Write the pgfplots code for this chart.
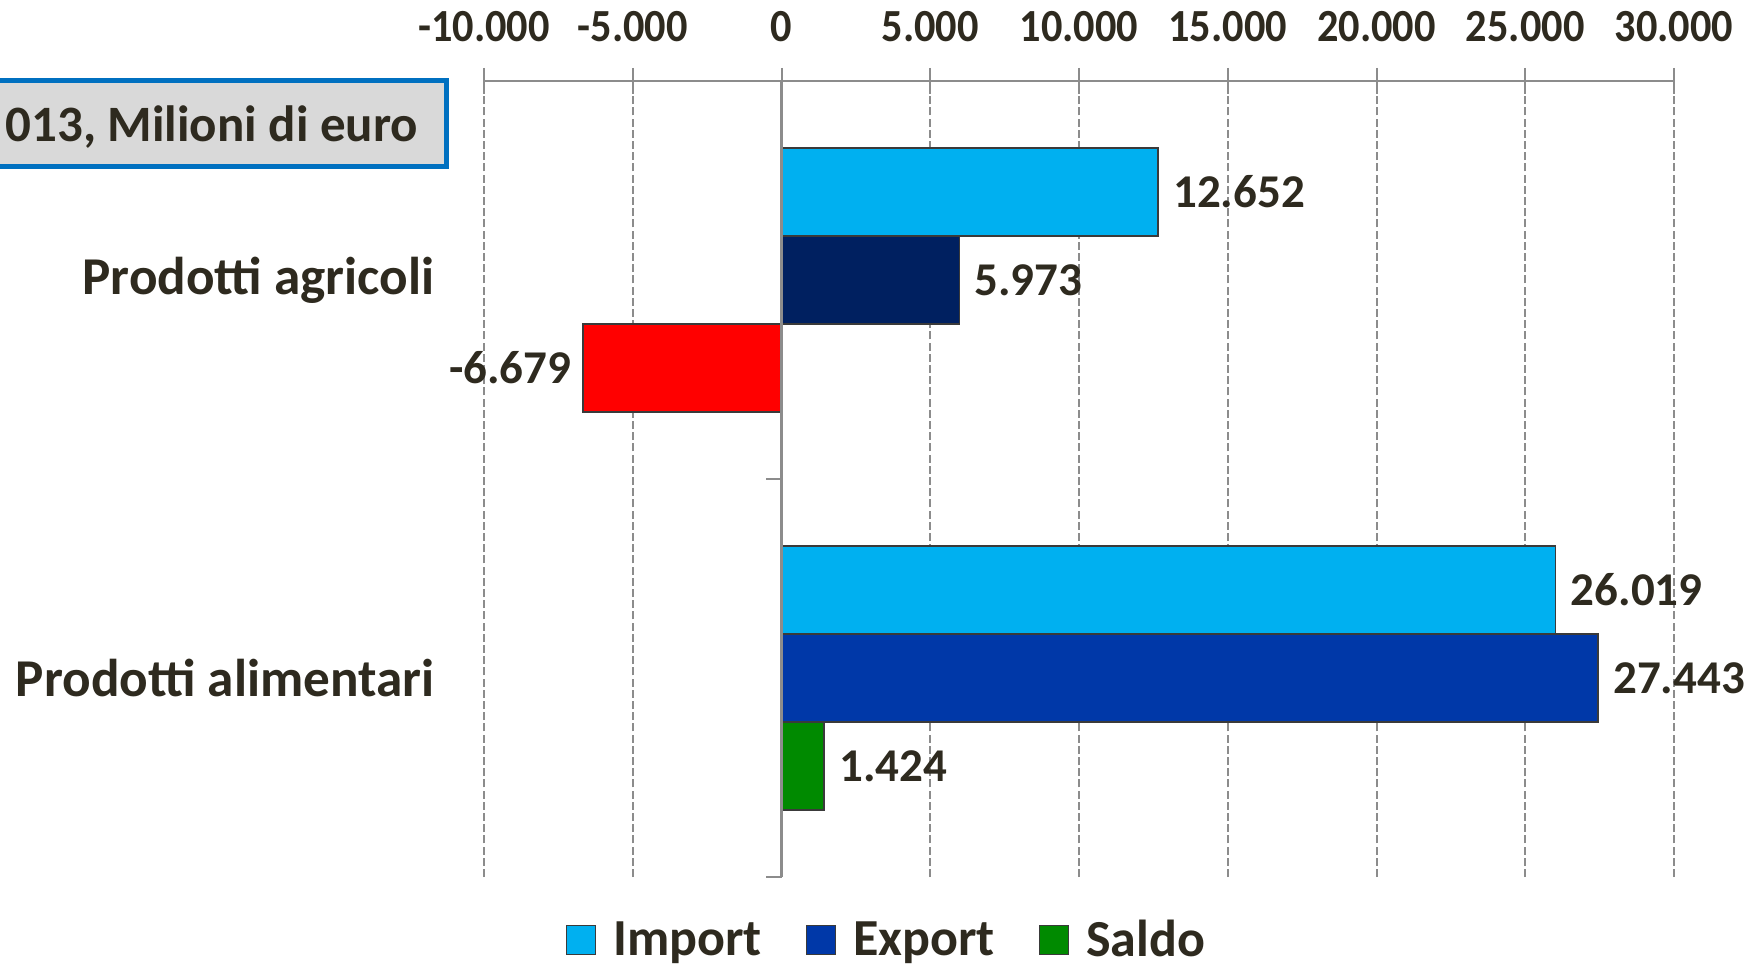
\documentclass[border=0pt]{standalone}
\usepackage{fontspec}
\setmainfont{Carlito}
\newfontfamily\tickfont{Carlito}[FakeStretch=0.92]
\usepackage{pgfplots}
\pgfplotsset{compat=1.18}
\definecolor{txt}{HTML}{2E2A1F}
\definecolor{cImp}{HTML}{00B0F0}
\definecolor{cExp}{HTML}{0038A8}
\definecolor{cExpA}{HTML}{002060}
\definecolor{cSal}{HTML}{008A00}
\definecolor{cRed}{HTML}{FF0000}
\definecolor{gridc}{HTML}{8C8C8C}
\definecolor{barline}{HTML}{3A3A3A}
\definecolor{boxblue}{HTML}{0070C0}
\definecolor{boxgray}{HTML}{D9D9D9}
\pgfdeclareradialshading{bgshade}{\pgfpoint{0bp}{0bp}}{color(0bp)=(white); color(28bp)=(white); color(50bp)=(black!13)}
\begin{document}
\begin{tikzpicture}
% background
\shade[shading=bgshade] (-500pt,-550pt) rectangle (1000pt,950pt);
% title box (partly outside the page)
\filldraw[fill=boxgray, draw=boxblue, line width=2.5pt] (-30pt,401.5pt) rectangle (223.2pt,444.5pt);
\node[anchor=east, inner sep=0pt, text=txt, font=\bfseries\fontsize{25.5}{30}\selectfont] at (209.25pt,421.3pt) {013, Milioni di euro};
\begin{axis}[
  at={(242pt,46.5pt)}, anchor=south west,
  scale only axis, width=595pt, height=398pt,
  xmin=-10000, xmax=30000, ymin=0, ymax=2,
  xtick={-10000,-5000,...,30000},
  scaled x ticks=false,
  ytick={0.5,1.5},
  yticklabels={Prodotti alimentari, Prodotti agricoli},
  axis x line*=top, axis y line*=left,
  x axis line style={-, draw=gridc, line width=1.2pt},
  y axis line style={draw=none},
  xtick style={draw=gridc, line width=1pt},
  ytick style={draw=none},
  tick align=center, major tick length=13pt,
  xmajorgrids,
  grid style={draw=gridc, line width=1pt, dash pattern=on 4pt off 1.6pt},
  /pgf/number format/.cd, fixed, precision=0, 1000 sep={.}, assume math mode=true,
  /pgfplots/.cd,
  x tick label style={font=\tickfont\bfseries\fontsize{23}{27}\selectfont, text=txt, yshift=9.5pt},
  y tick label style={font=\bfseries\fontsize{26.6}{31}\selectfont, text=txt, inner sep=0pt, xshift=-18pt},
  point meta=x,
  nodes near coords,
  every node near coord/.append style={font=\bfseries\fontsize{23.5}{28}\selectfont, text=txt},
  legend style={at={(0.339,0)}, anchor=center, yshift=-31.5pt, draw=none, fill=none,
    font=\bfseries\fontsize{26}{31}\selectfont, text=txt,
    /tikz/every even column/.append style={column sep=20pt}},
  legend columns=-1,
  legend image code/.code={\draw[#1, draw=barline, line width=0.7pt] (0pt,-7.25pt) rectangle (14.5pt,7.25pt); \path (21pt,0pt);},
  every axis plot/.append style={xbar, bar width=0.221, bar shift=0pt, draw=barline, line width=0.7pt},
]
\addplot[fill=cImp, every node near coord/.append style={anchor=west, xshift=4pt}] coordinates {(12652,1.721) (26019,0.721)};
\addlegendentry{Import}
\addplot[fill=cExp, every node near coord/.append style={anchor=west, xshift=4pt}] coordinates {(27443,0.5)};
\addlegendentry{Export}
\addplot[fill=cSal, every node near coord/.append style={anchor=west, xshift=4pt}] coordinates {(1424,0.279)};
\addlegendentry{Saldo}
\addplot[fill=cExpA, forget plot, every node near coord/.append style={anchor=west, xshift=4pt}] coordinates {(5973,1.5)};
\addplot[fill=cRed, forget plot, every node near coord/.append style={anchor=east, xshift=-2pt}] coordinates {(-6679,1.279)};
\draw[gridc, line width=1.2pt] (axis cs:0,0) -- (axis cs:0,2);
\draw[gridc, line width=1.2pt] (axis cs:0,1) -- ([xshift=-8pt]axis cs:0,1);
\draw[gridc, line width=1.2pt] (axis cs:0,0) -- ([xshift=-8pt]axis cs:0,0);
\end{axis}
\pgfresetboundingbox
\useasboundingbox (0pt,0pt) rectangle (875pt,485pt);
\end{tikzpicture}
\end{document}
